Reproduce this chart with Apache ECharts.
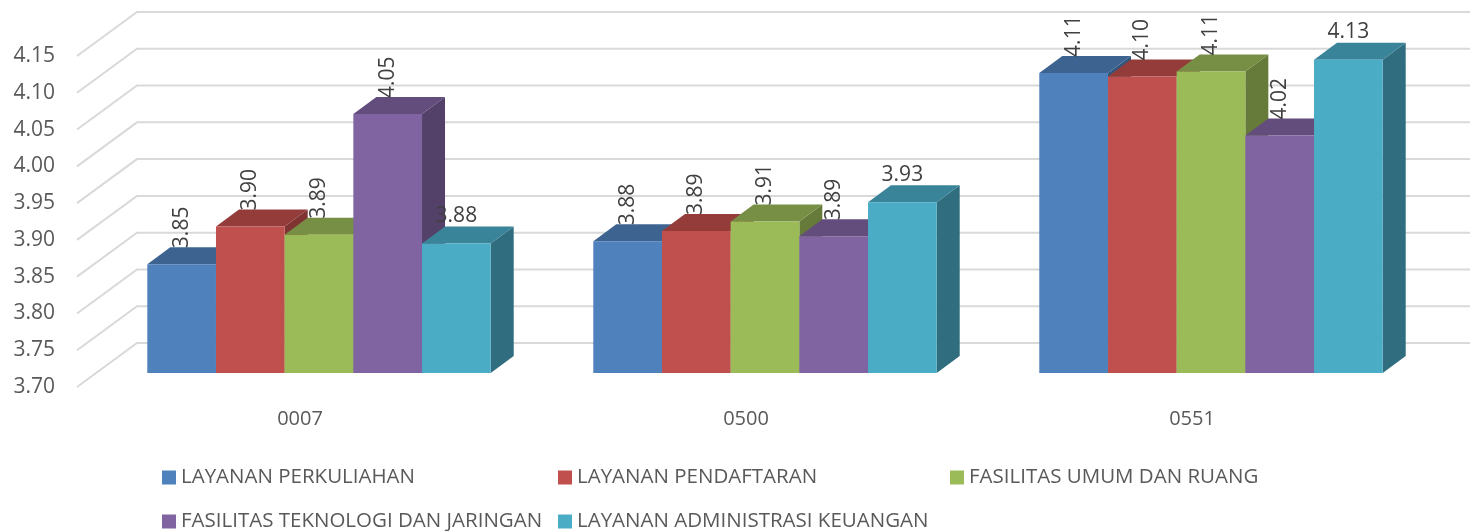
<!DOCTYPE html>
<html>
<head>
<meta charset="utf-8">
<script src="https://cdn.jsdelivr.net/npm/echarts@6/dist/echarts.min.js"></script>
<style>
  html, body { margin: 0; padding: 0; background: #fff; }
  #chart { width: 1470px; height: 531px; }
</style>
</head>
<body>
<div id="chart"></div>
<script>
const categories = ["0007", "0500", "0551"];
const seriesNames = [
  "LAYANAN PERKULIAHAN",
  "LAYANAN PENDAFTARAN",
  "FASILITAS UMUM DAN RUANG",
  "FASILITAS TEKNOLOGI DAN JARINGAN",
  "LAYANAN ADMINISTRASI KEUANGAN",
];
const layananPerkuliahan = [3.848, 3.879, 4.108];
const layananPendaftaran = [3.899, 3.893, 4.103];
const fasilitasUmum = [3.888, 3.906, 4.11];
const fasilitasTeknologi = [4.052, 3.886, 4.023];
const layananAdministrasi = [3.876, 3.932, 4.126];
const yTicks = [3.7, 3.75, 3.8, 3.85, 3.9, 3.95, 4.0, 4.05, 4.1, 4.15];

const seriesValues = [
  layananPerkuliahan,
  layananPendaftaran,
  fasilitasUmum,
  fasilitasTeknologi,
  layananAdministrasi,
];
const frontColors = ["#4f81bd", "#c0504d", "#9bbb59", "#8064a2", "#4bacc6"];
const topColors = ["#3d6491", "#943c3a", "#778f44", "#624d7d", "#3a849a"];
const sideColors = ["#34557c", "#7f3432", "#667b3a", "#53416a", "#306d7e"];

const Y_MIN = 3.7;
// bar front plane offset from the floor front, and bar depth
const DX1 = 19, DY1 = -14, DEPTH_X = 23, DEPTH_Y = -17;
// back wall offset
const WALL_X = 60, WALL_Y = -44;
const FONT = "'Open Sans', sans-serif";

const chart = echarts.init(document.getElementById("chart"));

const wallRenderer = (params, api) => {
  const p = api.coord([0, api.value(1)]);
  const cs = params.coordSys;
  const xl = cs.x, xr = cs.x + cs.width;
  return {
    type: "polyline",
    shape: {
      points: [
        [xl, p[1]],
        [xl + WALL_X, p[1] + WALL_Y],
        [xr + WALL_X, p[1] + WALL_Y],
      ],
    },
    style: { stroke: "#d9d9d9", lineWidth: 2, fill: null },
  };
};

const barRenderer = (sIdx) => (params, api) => {
  const cat = api.value(0);
  const v = api.value(1);
  const top = api.coord([cat, v]);
  const base = api.coord([cat, Y_MIN]);
  const band = api.size([1, 0])[0];
  const groupW = band * 0.77;
  const w = groupW / 5;
  const x0 = top[0] - groupW / 2 + sIdx * w + DX1;
  const x1 = x0 + w;
  const yt = top[1] + DY1;
  const yb = base[1] + DY1;
  const horizontal = sIdx === 4;
  const label = {
    type: "text",
    x: x0 + w / 2,
    y: yt + DEPTH_Y + (horizontal ? 0 : 1),
    rotation: horizontal ? 0 : Math.PI / 2,
    z2: 10,
    style: {
      text: v.toFixed(2),
      fill: "#404040",
      font: "21px " + FONT,
      align: horizontal ? "center" : "left",
      verticalAlign: horizontal ? "bottom" : "middle",
    },
  };
  return {
    type: "group",
    children: [
      {
        type: "polygon",
        shape: { points: [[x1, yb], [x1 + DEPTH_X, yb + DEPTH_Y], [x1 + DEPTH_X, yt + DEPTH_Y], [x1, yt]] },
        style: { fill: sideColors[sIdx] },
      },
      {
        type: "polygon",
        shape: { points: [[x0, yt], [x1, yt], [x1 + DEPTH_X, yt + DEPTH_Y], [x0 + DEPTH_X, yt + DEPTH_Y]] },
        style: { fill: topColors[sIdx] },
      },
      {
        type: "rect",
        shape: { x: x0, y: yt, width: w, height: yb - yt },
        style: { fill: frontColors[sIdx] },
      },
      label,
    ],
  };
};

const legendPos = [
  [157, 462],
  [553, 462],
  [945, 462],
  [157, 506],
  [553, 506],
];

const options = {
  animation: false,
  grid: { left: 77, right: 55, top: 56, bottom: 144 },
  xAxis: {
    type: "category",
    data: categories,
    axisLine: { show: false },
    axisTick: { show: false },
    axisLabel: { fontSize: 20, color: "#595959", fontFamily: FONT, margin: 22 },
  },
  yAxis: {
    type: "value",
    min: 3.7,
    max: 4.15,
    interval: 0.05,
    splitLine: { show: false },
    axisLine: { show: false },
    axisTick: { show: false },
    axisLabel: {
      fontSize: 21,
      color: "#595959",
      fontFamily: FONT,
      margin: 22,
      formatter: (value) => value.toFixed(2),
    },
  },
  legend: seriesNames.map((name, i) => ({
    data: [name],
    left: legendPos[i][0],
    top: legendPos[i][1],
    icon: "rect",
    itemWidth: 14,
    itemHeight: 14,
    selectedMode: false,
    textStyle: { fontSize: 20.5, color: "#595959", fontFamily: FONT },
  })),
  series: [
    {
      type: "custom",
      silent: true,
      renderItem: wallRenderer,
      data: yTicks.map((v) => [0, v]),
      z: 1,
    },
    ...seriesValues.map((vals, i) => ({
      name: seriesNames[i],
      type: "custom",
      renderItem: barRenderer(i),
      itemStyle: { color: frontColors[i] },
      data: vals.map((v, c) => [c, v]),
      z: 2,
    })),
  ],
};

chart.setOption(options);
</script>
</body>
</html>
